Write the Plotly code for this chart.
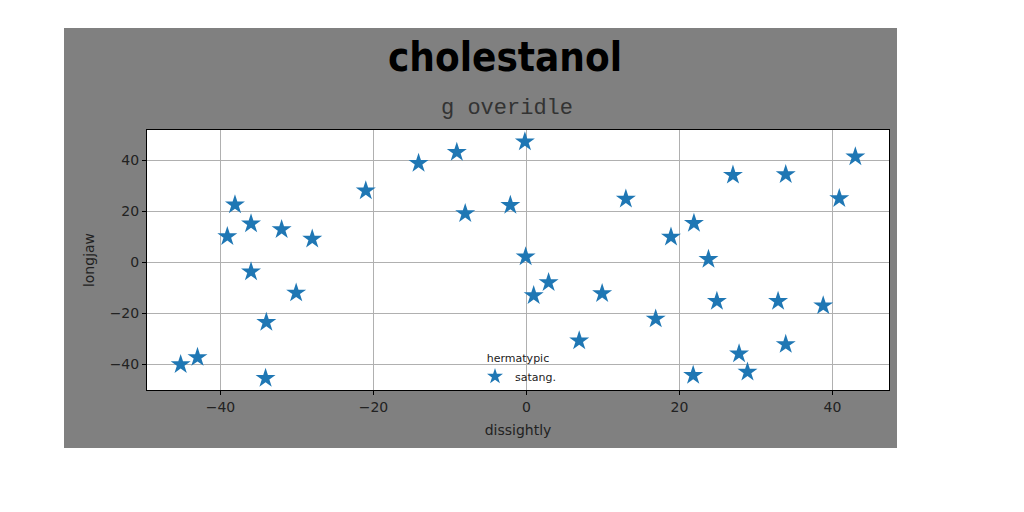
import plotly.graph_objects as go

# data
x_vals = [-45.2, -43.0, -34.1, -39.1, -38.1, -36.0, -32.0, -28.0, -36.0, -30.1,
          -34.0, -21.0, -14.1, -9.1, -8.0, -2.1, -0.2, -0.1, 0.95, 2.9,
          6.9, 9.9, 13.0, 16.9, 18.9, 21.9, 23.8, 21.8, 24.9, 27.0,
          27.8, 28.9, 32.9, 33.9, 33.9, 38.8, 40.9, 43.0]
y_vals = [-40.1, -37.3, -45.5, 10.1, 22.6, 15.1, 12.9, 9.1, -3.7, -12.0,
          -23.5, 28.1, 38.9, 43.2, 19.1, 22.4, 47.3, 2.2, -13.0, -7.9,
          -30.8, -12.2, 24.8, -22.2, 9.9, 15.3, 1.2, -44.3, -15.3, 34.2,
          -35.9, -43.0, -15.3, 34.4, -32.2, -17.0, 25.0, 41.4]
x_ticks = [-40, -20, 0, 20, 40]
y_ticks = [-40, -20, 0, 20, 40]
series_name = "satang."
legend_title = "hermatypic"
title_text = "cholestanol"
subtitle_text = "g overidle"
x_label = "dissightly"
y_label = "longjaw"

W, H = 1024, 512
OFF = 8  # page body margin
# plot area in screen pixels
SL, SR, ST, SB = 147, 889, 130, 390
L, T = SL - OFF, ST - OFF
R, B = W - (SR - OFF), H - (SB - OFF)
pw, ph = W - L - R, H - T - B


def px(xs):
    return (xs - OFF - L) / pw


def py(ys):
    return (H - B - (ys - OFF)) / ph


fig = go.Figure()
fig.add_trace(go.Scatter(
    x=x_vals, y=y_vals, mode="markers", name=series_name,
    marker=dict(symbol="star", size=15, color="#1f77b4", line=dict(width=0)),
))

axis_common = dict(
    showgrid=True, gridcolor="#b0b0b0", gridwidth=1,
    showline=True, linecolor="black", linewidth=1, mirror=True,
    ticks="outside", ticklen=4, tickcolor="black",
    zeroline=False,
    tickfont=dict(family="DejaVu Sans", size=14, color="#222"),
)
fig.update_xaxes(range=[-49.6, 47.4], tickvals=x_ticks,
                 title=dict(text=x_label, font=dict(family="DejaVu Sans", size=14, color="#222"), standoff=11),
                 **axis_common)
fig.update_yaxes(range=[-50.1, 51.9], tickvals=y_ticks,
                 title=dict(text=y_label, font=dict(family="DejaVu Sans", size=14, color="#222"), standoff=11),
                 **axis_common)

shapes = []
gx0, gx1, gy0, gy1 = 64, 897, 28, 448
white = dict(type="rect", xref="paper", yref="paper", fillcolor="white",
             line=dict(width=0), layer="below")
shapes.append(dict(white, x0=px(0), x1=px(gx0), y0=py(H + 20), y1=py(0)))
shapes.append(dict(white, x0=px(gx1), x1=px(W + 20), y0=py(H + 20), y1=py(0)))
shapes.append(dict(white, x0=px(0), x1=px(W + 20), y0=py(gy0), y1=py(0)))
shapes.append(dict(white, x0=px(0), x1=px(W + 20), y0=py(H + 20), y1=py(gy1)))

fig.update_layout(
    width=W, height=H,
    margin=dict(l=L, r=R, t=T, b=B),
    paper_bgcolor="#808080",
    plot_bgcolor="white",
    shapes=shapes,
    showlegend=True,
    legend=dict(
        x=0.5, y=0.163, xanchor="center", yanchor="top",
        bgcolor="rgba(255,255,255,0)", borderwidth=0,
        font=dict(family="DejaVu Sans", size=11, color="#222"),
        title=dict(text=legend_title, side="top center",
                   font=dict(family="DejaVu Sans", size=11, color="#222")),
        itemsizing="constant",
    ),
    annotations=[
        dict(text=title_text, x=px(505), y=py(57), xref="paper", yref="paper",
             showarrow=False, xanchor="center", yanchor="middle",
             font=dict(family="DejaVu Sans Condensed, DejaVu Sans", size=40, color="black", weight=900)),
        dict(text=subtitle_text, x=px(507), y=py(108), xref="paper", yref="paper",
             showarrow=False, xanchor="center", yanchor="middle",
             font=dict(family="Liberation Mono, Courier New, monospace", size=22, color="#333")),
    ],
)

fig.write_html("out.html")
